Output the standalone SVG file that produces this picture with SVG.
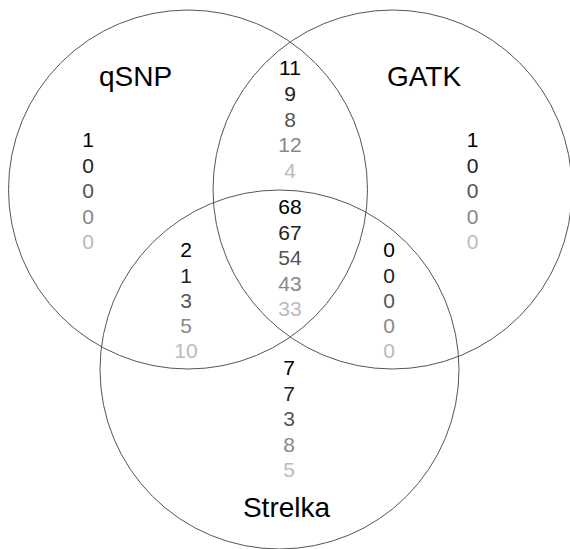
<svg xmlns="http://www.w3.org/2000/svg" width="570" height="549" viewBox="0 0 570 549">
<style>
.c{fill:none;stroke:#555;stroke-width:1}
text{font-family:"Liberation Sans",Arial,sans-serif;text-anchor:middle}
.lab{font-size:28px;fill:#000}
.n{font-size:21px}
.r1{fill:#000}.r2{fill:#222}.r3{fill:#555}.r4{fill:#888}.r5{fill:#bbb}
</style>
<rect width="570" height="549" fill="#fff"/>
<g id="circles">
<circle id="qsnp-set" class="c" cx="188" cy="189.5" r="179.5"/>
<circle id="gatk-set" class="c" cx="392.5" cy="189.5" r="179.5"/>
<circle id="strelka-set" class="c" cx="279.5" cy="369.5" r="179.5"/>
</g>
<g id="labels">
<text class="lab" x="135.5" y="86">qSNP</text>
<text class="lab" x="424" y="86">GATK</text>
<text class="lab" x="286.5" y="517">Strelka</text>
</g>
<g id="qsnp-only">
<text class="n r1" x="88" y="147">1</text>
<text class="n r2" x="88" y="172.5">0</text>
<text class="n r3" x="88" y="198">0</text>
<text class="n r4" x="88" y="223.5">0</text>
<text class="n r5" x="88" y="249">0</text>
</g>
<g id="gatk-only">
<text class="n r1" x="472.5" y="147">1</text>
<text class="n r2" x="472.5" y="172.5">0</text>
<text class="n r3" x="472.5" y="198">0</text>
<text class="n r4" x="472.5" y="223.5">0</text>
<text class="n r5" x="472.5" y="249">0</text>
</g>
<g id="qsnp-gatk">
<text class="n r1" x="290" y="75">11</text>
<text class="n r2" x="290" y="101">9</text>
<text class="n r3" x="290" y="127">8</text>
<text class="n r4" x="290" y="152">12</text>
<text class="n r5" x="290" y="178">4</text>
</g>
<g id="all-three">
<text class="n r1" x="290" y="214">68</text>
<text class="n r2" x="290" y="239.5">67</text>
<text class="n r3" x="290" y="265">54</text>
<text class="n r4" x="290" y="290.5">43</text>
<text class="n r5" x="290" y="316">33</text>
</g>
<g id="qsnp-strelka">
<text class="n r1" x="186" y="257">2</text>
<text class="n r2" x="186" y="282.5">1</text>
<text class="n r3" x="186" y="308">3</text>
<text class="n r4" x="186" y="333">5</text>
<text class="n r5" x="186" y="358">10</text>
</g>
<g id="gatk-strelka">
<text class="n r1" x="389" y="257">0</text>
<text class="n r2" x="389" y="282.5">0</text>
<text class="n r3" x="389" y="308">0</text>
<text class="n r4" x="389" y="333">0</text>
<text class="n r5" x="389" y="358">0</text>
</g>
<g id="strelka-only">
<text class="n r1" x="289" y="375">7</text>
<text class="n r2" x="289" y="400.5">7</text>
<text class="n r3" x="289" y="426">3</text>
<text class="n r4" x="289" y="451.5">8</text>
<text class="n r5" x="289" y="477">5</text>
</g>
</svg>
